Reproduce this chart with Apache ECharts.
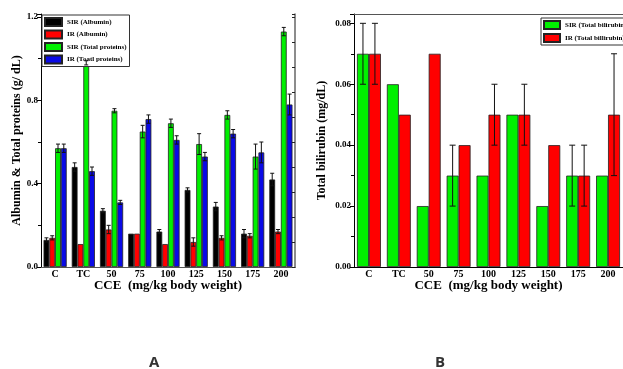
<!DOCTYPE html>
<html>
<head>
<meta charset="utf-8">
<script src="https://cdn.jsdelivr.net/npm/echarts@6/dist/echarts.min.js"></script>
<style>
  html, body { margin: 0; padding: 0; background: #fff; }
  #chart { width: 623px; height: 369px; }
</style>
</head>
<body>
<div id="chart"></div>
<script>
// categories shared by both panels
const categories = ['C', 'TC', '50', '75', '100', '125', '150', '175', '200'];

// panel A: albumin & total proteins (g/dL), with +/- errors
const sirAlbumin = [0.13, 0.48, 0.27, 0.16, 0.17, 0.37, 0.29, 0.16, 0.42];
const sirAlbuminErr = [0.01, 0.02, 0.01, 0, 0.01, 0.01, 0.02, 0.02, 0.03];
const irAlbumin = [0.14, 0.11, 0.18, 0.16, 0.11, 0.12, 0.14, 0.15, 0.17];
const irAlbuminErr = [0.01, 0, 0.02, 0, 0, 0.02, 0.01, 0.01, 0.01];
const sirProtein = [0.57, 0.98, 0.75, 0.65, 0.69, 0.59, 0.73, 0.53, 1.13];
const sirProteinErr = [0.02, 0.01, 0.01, 0.03, 0.02, 0.05, 0.02, 0.06, 0.02];
const irProtein = [0.57, 0.46, 0.31, 0.71, 0.61, 0.53, 0.64, 0.55, 0.78];
const irProteinErr = [0.02, 0.02, 0.01, 0.02, 0.02, 0.02, 0.02, 0.05, 0.05];

// panel B: total bilirubin (mg/dL)
const sirBili = [0.07, 0.06, 0.02, 0.03, 0.03, 0.05, 0.02, 0.03, 0.03];
const sirBiliErr = [0.01, 0, 0, 0.01, 0, 0, 0, 0.01, 0];
const irBili = [0.07, 0.05, 0.07, 0.04, 0.05, 0.05, 0.04, 0.03, 0.05];
const irBiliErr = [0.01, 0, 0, 0, 0.01, 0.01, 0, 0.01, 0.02];

const serif = '"Liberation Serif", "DejaVu Serif", serif';
const gapA = 0.18;
const gapB = 0.2;

const chart = echarts.init(document.getElementById('chart'), null, { renderer: 'canvas' });

// error bar drawn at the centre of bar `idx` out of `n` in a category
function errorBars(idx, n, gap, cap) {
	return function (params, api) {
		const ci = api.value(0);
		const v = api.value(1);
		const e = api.value(2);
		if (!e) return null;
		const band = api.size([1, 0])[0];
		const bw = (band * (1 - gap)) / n;
		const c = api.coord([ci, v]);
		const x = c[0] - (band * (1 - gap)) / 2 + (idx + 0.5) * bw;
		const hi = api.coord([ci, v + e])[1];
		const lo = api.coord([ci, v - e])[1];
		const style = { stroke: '#111', lineWidth: 1 };
		return {
			type: 'group',
			children: [
				{ type: 'line', shape: { x1: x, y1: hi, x2: x, y2: lo }, style },
				{ type: 'line', shape: { x1: x - cap, y1: hi, x2: x + cap, y2: hi }, style },
				{ type: 'line', shape: { x1: x - cap, y1: lo, x2: x + cap, y2: lo }, style },
			],
		};
	};
}

function errData(vals, errs) {
	return vals.map((v, i) => [i, v, errs[i]]);
}

function barSeries(name, data, color, xi, yi, gap) {
	return {
		name,
		type: 'bar',
		xAxisIndex: xi,
		yAxisIndex: yi,
		data,
		barGap: '0%',
		barCategoryGap: gap * 100 + '%',
		itemStyle: { color, borderColor: '#222', borderWidth: 0.8 },
	};
}

function errSeries(vals, errs, idx, n, gap, cap, xi, yi) {
	return {
		type: 'custom',
		xAxisIndex: xi,
		yAxisIndex: yi,
		z: 5,
		renderItem: errorBars(idx, n, gap, cap),
		data: errData(vals, errs),
		silent: true,
	};
}

const tickLabel = { color: '#000', fontFamily: serif, fontWeight: 'bold', fontSize: 9 };
const catLabel = { color: '#000', fontFamily: serif, fontWeight: 'bold', fontSize: 10, margin: 2, interval: 0 };
const nameStyle = { color: '#000', fontFamily: serif, fontWeight: 'bold', fontSize: 12 };
const xNameStyle = { color: '#000', fontFamily: serif, fontWeight: 'bold', fontSize: 13 };
const legendText = { color: '#000', fontFamily: serif, fontWeight: 'bold', fontSize: 7 };

const maxA = 1.2144;
const maxB = 0.08306;

const option = {
	backgroundColor: '#fff',
	animation: false,
	grid: [
		{ left: 41, top: 14, right: 328, bottom: 102 },
		{ left: 354, top: 14, right: -7, bottom: 102 },
	],
	legend: [
		{
			data: ['SIR (Albumin)', 'IR (Albumin)', 'SIR (Total proteins)', 'IR (Toatl proteins)'],
			left: 42, top: 15, orient: 'vertical',
			itemWidth: 17, itemHeight: 8, itemGap: 2.5,
			padding: [2, 3, 2, 2],
			borderColor: '#333', borderWidth: 1, backgroundColor: '#fff',
			textStyle: legendText, icon: 'rect',
		},
		{
			data: ['SIR (Total bilirubin)', 'IR (Total billirubin)'],
			left: 541, top: 18, orient: 'vertical',
			itemWidth: 16, itemHeight: 8, itemGap: 3,
			padding: [2, 3, 2, 2],
			borderColor: '#333', borderWidth: 1, backgroundColor: '#fff',
			textStyle: legendText, icon: 'rect',
		},
	],
	xAxis: [
		{
			gridIndex: 0, type: 'category', data: categories,
			name: 'CCE  (mg/kg body weight)', nameLocation: 'middle', nameGap: 12, nameMoveOverlap: false,
			nameTextStyle: xNameStyle,
			axisLine: { lineStyle: { color: '#000', width: 1 } },
			axisTick: { inside: false, length: 3, lineStyle: { color: '#000' } },
			axisLabel: catLabel,
		},
		{
			gridIndex: 0, type: 'category', data: categories, position: 'top',
			axisLine: { lineStyle: { color: '#555', width: 1 } },
			axisTick: { inside: true, length: 3, lineStyle: { color: '#333' } },
			axisLabel: { show: false },
		},
		{
			gridIndex: 1, type: 'category', data: categories,
			name: 'CCE  (mg/kg body weight)', nameLocation: 'middle', nameGap: 12, nameMoveOverlap: false,
			nameTextStyle: xNameStyle,
			axisLine: { lineStyle: { color: '#000', width: 1 } },
			axisTick: { inside: false, length: 3, lineStyle: { color: '#000' } },
			axisLabel: catLabel,
		},
		{
			gridIndex: 1, type: 'category', data: categories, position: 'top',
			axisLine: { lineStyle: { color: '#555', width: 1 } },
			axisTick: { inside: true, length: 3, lineStyle: { color: '#333' } },
			axisLabel: { show: false },
		},
	],
	yAxis: [
		{
			gridIndex: 0, type: 'value', min: 0, max: maxA, interval: 0.4,
			name: 'Albumin & Total proteins (g/ dL)', nameLocation: 'middle', nameGap: 18, nameMoveOverlap: false,
			nameTextStyle: nameStyle,
			axisLine: { show: true, lineStyle: { color: '#000' } },
			axisTick: { show: true, length: 4, lineStyle: { color: '#000' } },
			minorTick: { show: true, splitNumber: 2, length: 3, lineStyle: { color: '#000' } },
			splitLine: { show: false },
			axisLabel: Object.assign({ margin: 3, showMaxLabel: false, formatter: (v) => v.toFixed(1) }, tickLabel),
		},
		{
			gridIndex: 0, type: 'value', min: 0, max: maxA, interval: 0.12, position: 'right',
			axisLine: { show: true, lineStyle: { color: '#666', width: 1.5 } },
			axisTick: { show: true, inside: true, length: 3, lineStyle: { color: '#222' } },
			splitLine: { show: false },
			axisLabel: { show: false },
		},
		{
			gridIndex: 1, type: 'value', min: 0, max: maxB, interval: 0.02,
			name: 'Total bilirubin (mg/dL)', nameLocation: 'middle', nameGap: 26, nameMoveOverlap: false,
			nameTextStyle: nameStyle,
			axisLine: { show: true, lineStyle: { color: '#000' } },
			axisTick: { show: true, length: 4, lineStyle: { color: '#000' } },
			minorTick: { show: true, splitNumber: 2, length: 3, lineStyle: { color: '#000' } },
			splitLine: { show: false },
			axisLabel: Object.assign({ margin: 3, showMaxLabel: false, formatter: (v) => v.toFixed(2) }, tickLabel),
		},
	],
	graphic: [
		{ type: 'text', left: 149, top: 355, style: { text: 'A', font: 'bold 15px "Open Sans", "DejaVu Sans", sans-serif', fill: '#333' } },
		{ type: 'text', left: 435, top: 355, style: { text: 'B', font: 'bold 15px "Open Sans", "DejaVu Sans", sans-serif', fill: '#333' } },
	],
	series: [
		barSeries('SIR (Albumin)', sirAlbumin, '#000000', 0, 0, gapA),
		barSeries('IR (Albumin)', irAlbumin, '#ff0000', 0, 0, gapA),
		barSeries('SIR (Total proteins)', sirProtein, '#00f000', 0, 0, gapA),
		barSeries('IR (Toatl proteins)', irProtein, '#0a0ae6', 0, 0, gapA),
		errSeries(sirAlbumin, sirAlbuminErr, 0, 4, gapA, 2, 0, 0),
		errSeries(irAlbumin, irAlbuminErr, 1, 4, gapA, 2, 0, 0),
		errSeries(sirProtein, sirProteinErr, 2, 4, gapA, 2, 0, 0),
		errSeries(irProtein, irProteinErr, 3, 4, gapA, 2, 0, 0),
		barSeries('SIR (Total bilirubin)', sirBili, '#00f000', 2, 2, gapB),
		barSeries('IR (Total billirubin)', irBili, '#ff0000', 2, 2, gapB),
		errSeries(sirBili, sirBiliErr, 0, 2, gapB, 3, 2, 2),
		errSeries(irBili, irBiliErr, 1, 2, gapB, 3, 2, 2),
	],
};

chart.setOption(option);
window.addEventListener('resize', () => chart.resize());
</script>
</body>
</html>
